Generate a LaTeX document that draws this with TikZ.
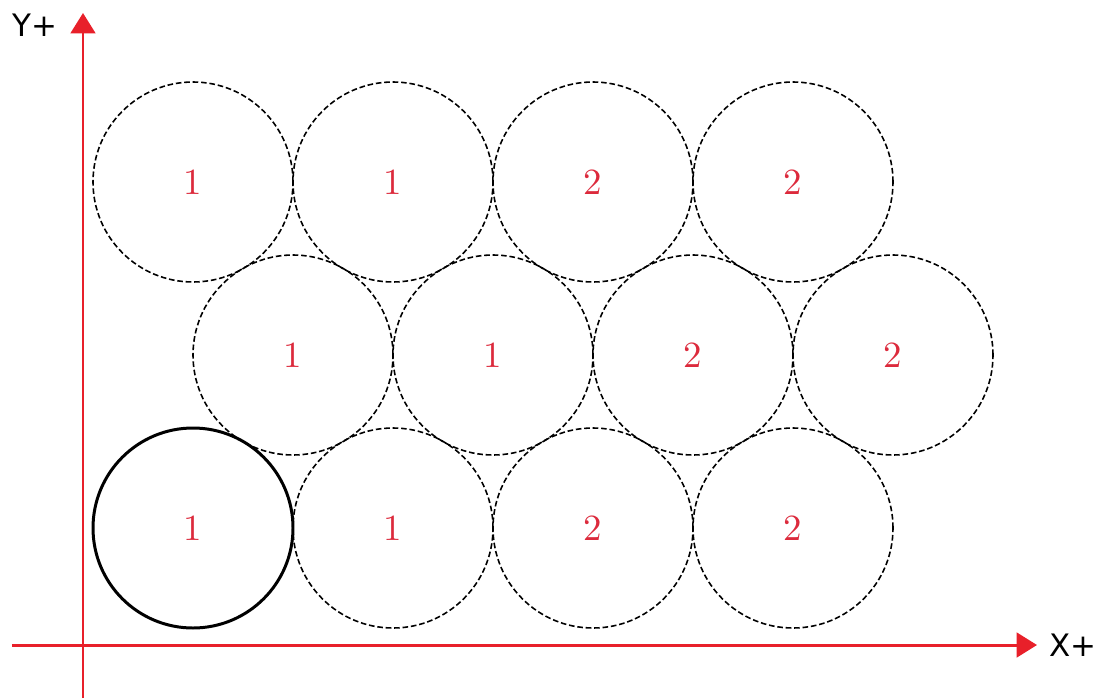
\documentclass[tikz,border=0pt]{standalone}
\usepackage{fontspec}
\newfontfamily\axisfont{DejaVu Sans}
\usetikzlibrary{arrows.meta,positioning}
\definecolor{AxisRed}{HTML}{E8202A}
\definecolor{LabRed}{HTML}{DC2A3C}
\tikzset{
  axis/.style={AxisRed,line width=0.85pt,-{Triangle[length=5.8pt,width=7pt]}},
  ball/.style={circle,draw=black,minimum size=2cm,inner sep=0pt,text=LabRed,
    font=\fontsize{10.5}{12}\selectfont,
    line width=0.45pt,dash pattern=on 1.6pt off 0.8pt},
  solidball/.style={ball,solid,line width=0.85pt},
  axlab/.style={font=\axisfont\fontsize{8.8}{10}\selectfont}
}
\begin{document}
\begin{tikzpicture}
\useasboundingbox (0,0) rectangle (11,6.98);
% axes
\coordinate (xs) at (0.12,0.53);
\coordinate (xe) at (10.37,0.53);
\coordinate (ys) at (0.83,0);
\coordinate (ye) at (0.83,6.85);
\draw[axis] (xs) -- (xe);
\draw[axis] (ys) -- (ye);
\node[axlab] (ylab) at (0.35,6.73) {Y+};
\node[axlab] (xlab) at (10.73,0.53) {X+};
% packed balls, three rows
\foreach \x/\lab [count=\i] in {1.93/1,3.93/1,5.93/2,7.93/2}{\node[ball] (t\i) at (\x,5.16) {\lab};}
\foreach \x/\lab [count=\i] in {2.93/1,4.93/1,6.93/2,8.93/2}{\node[ball] (m\i) at (\x,3.43) {\lab};}
\node[solidball] (b1) at (1.93,1.70) {1};
\foreach \x/\lab [count=\i from 2] in {3.93/1,5.93/2,7.93/2}{\node[ball] (b\i) at (\x,1.70) {\lab};}
\end{tikzpicture}
\end{document}
